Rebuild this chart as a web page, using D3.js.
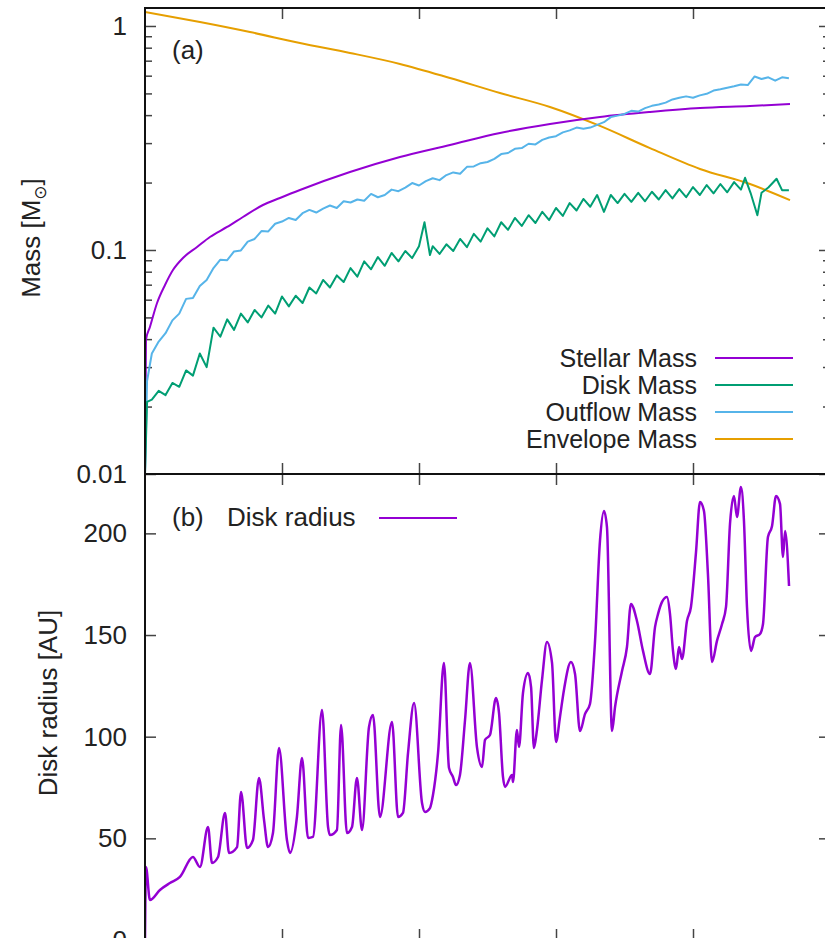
<!DOCTYPE html>
<html><head><meta charset="utf-8">
<script src="https://cdn.jsdelivr.net/npm/d3@7"></script>
<style>html,body{margin:0;padding:0;background:#fff;overflow:hidden}svg{display:block}</style>
</head><body>
<svg id="chart" width="825" height="938"></svg>
<script>
// ---------- data ----------
const timeTicks = [1, 2, 3, 4];
const massTicks = [0.01, 0.1, 1];
const massTickLabels = ["0.01", "0.1", "1"];
const massMinorTicks = [0.02,0.03,0.04,0.05,0.06,0.07,0.08,0.09,0.2,0.3,0.4,0.5,0.6,0.7,0.8,0.9];
const radiusTicks = [0, 50, 100, 150, 200];
const seriesNames = ["Stellar Mass", "Disk Mass", "Outflow Mass", "Envelope Mass"];
const seriesColors = ["#9400d3", "#009e73", "#56b4e9", "#e69f00"];

const stellarMass = [[0,0.01],[0.007,0.0397],[0.036,0.0453],[0.088,0.058],[0.146,0.0698],[0.204,0.0814],[0.277,0.0921],[0.38,0.1031],[0.474,0.1143],[0.599,0.1267],[0.715,0.1404],[0.861,0.1588],[0.985,0.1707],[1.131,0.1853],[1.496,0.2229],[1.861,0.2601],[2.226,0.2942],[2.591,0.333],[2.956,0.3652],[3.321,0.3925],[3.686,0.4131],[4.051,0.4304],[4.416,0.4394],[4.708,0.4485]];

const diskMass = [[0,0.01],[0.015,0.021],[0.05,0.0215],[0.1,0.0235],[0.15,0.0225],[0.2,0.0255],[0.25,0.0245],[0.3,0.029],[0.35,0.0275],[0.4,0.0345],[0.45,0.03],[0.5,0.045],[0.55,0.041],[0.6,0.049],[0.65,0.044],[0.7,0.052],[0.75,0.0475],[0.8,0.054],[0.85,0.05],[0.9,0.0565],[0.95,0.052],[1.0,0.062],[1.05,0.056],[1.1,0.0625],[1.15,0.058],[1.2,0.068],[1.25,0.064],[1.3,0.0735],[1.35,0.068],[1.4,0.077],[1.45,0.072],[1.5,0.083],[1.55,0.076],[1.6,0.089],[1.65,0.082],[1.7,0.093],[1.75,0.085],[1.8,0.097],[1.85,0.089],[1.9,0.099],[1.95,0.092],[2.0,0.104],[2.04,0.133],[2.08,0.095],[2.1,0.104],[2.15,0.096],[2.2,0.106],[2.25,0.099],[2.3,0.112],[2.35,0.103],[2.4,0.118],[2.45,0.109],[2.5,0.125],[2.55,0.115],[2.6,0.133],[2.65,0.123],[2.7,0.139],[2.75,0.128],[2.8,0.143],[2.85,0.132],[2.9,0.148],[2.95,0.136],[3.0,0.154],[3.05,0.142],[3.1,0.162],[3.15,0.15],[3.2,0.169],[3.25,0.156],[3.3,0.176],[3.35,0.148],[3.4,0.176],[3.45,0.162],[3.5,0.178],[3.55,0.164],[3.6,0.18],[3.65,0.165],[3.7,0.182],[3.75,0.168],[3.8,0.185],[3.85,0.17],[3.9,0.187],[3.95,0.172],[4.0,0.191],[4.05,0.176],[4.1,0.195],[4.15,0.179],[4.2,0.197],[4.25,0.181],[4.3,0.201],[4.35,0.186],[4.38,0.21],[4.42,0.18],[4.47,0.143],[4.5,0.18],[4.55,0.19],[4.61,0.208],[4.65,0.185],[4.7,0.185]];

const outflowMass = [[0,0.01],[0.015,0.026],[0.05,0.0345],[0.1,0.039],[0.15,0.0425],[0.2,0.0485],[0.25,0.052],[0.3,0.0605],[0.35,0.061],[0.4,0.069],[0.45,0.0735],[0.5,0.083],[0.55,0.0905],[0.6,0.09],[0.65,0.0985],[0.7,0.0995],[0.75,0.109],[0.8,0.112],[0.85,0.1215],[0.9,0.121],[0.95,0.131],[1.0,0.134],[1.05,0.139],[1.1,0.136],[1.15,0.146],[1.2,0.151],[1.25,0.147],[1.3,0.153],[1.35,0.158],[1.4,0.154],[1.45,0.165],[1.5,0.163],[1.55,0.168],[1.6,0.166],[1.65,0.178],[1.7,0.172],[1.75,0.176],[1.8,0.186],[1.85,0.183],[1.9,0.19],[1.95,0.199],[2.0,0.194],[2.05,0.203],[2.1,0.209],[2.15,0.205],[2.2,0.216],[2.25,0.222],[2.3,0.219],[2.35,0.235],[2.4,0.236],[2.45,0.244],[2.5,0.247],[2.55,0.255],[2.6,0.268],[2.65,0.271],[2.7,0.283],[2.75,0.285],[2.8,0.298],[2.85,0.296],[2.9,0.31],[2.95,0.318],[3.0,0.322],[3.05,0.335],[3.1,0.342],[3.15,0.352],[3.2,0.348],[3.25,0.352],[3.3,0.362],[3.35,0.372],[3.4,0.392],[3.45,0.398],[3.5,0.405],[3.55,0.418],[3.6,0.415],[3.65,0.43],[3.7,0.44],[3.75,0.446],[3.8,0.455],[3.85,0.47],[3.9,0.478],[3.95,0.485],[4.0,0.478],[4.05,0.49],[4.1,0.498],[4.15,0.515],[4.2,0.522],[4.25,0.53],[4.3,0.538],[4.35,0.548],[4.4,0.545],[4.45,0.595],[4.5,0.58],[4.55,0.59],[4.6,0.57],[4.65,0.59],[4.7,0.585]];

const envelopeMass = [[0,1.155],[0.401,1.042],[0.766,0.94],[1.131,0.839],[1.496,0.758],[1.861,0.677],[2.226,0.586],[2.591,0.502],[2.956,0.435],[3.321,0.358],[3.686,0.285],[4.051,0.23],[4.416,0.197],[4.708,0.167]];

const diskRadius = [[0,0],[0.007,35.9],[0.036,19.7],[0.109,24.6],[0.182,28.0],[0.255,31.0],[0.35,40.8],[0.401,35.9],[0.46,55.6],[0.489,37.9],[0.533,40.8],[0.584,62.5],[0.613,42.8],[0.672,45.7],[0.701,72.8],[0.745,45.3],[0.788,49.2],[0.832,79.7],[0.869,59.0],[0.898,45.7],[0.934,52.6],[0.978,94.4],[1.036,49.2],[1.058,42.8],[1.109,60.5],[1.146,89.5],[1.19,50.2],[1.226,50.7],[1.292,113.1],[1.336,55.6],[1.35,51.6],[1.401,54.1],[1.431,105.8],[1.474,52.6],[1.511,55.6],[1.547,79.7],[1.584,54.1],[1.635,104.8],[1.664,110.7],[1.715,60.5],[1.803,107.2],[1.847,60.5],[1.883,62.5],[1.92,92.0],[1.964,116.6],[2.022,67.4],[2.044,63.0],[2.08,64.9],[2.102,71.3],[2.139,92.0],[2.182,136.3],[2.219,84.6],[2.248,80.2],[2.27,76.2],[2.299,81.2],[2.336,108.2],[2.372,136.3],[2.423,94.9],[2.46,85.1],[2.482,98.4],[2.518,100.8],[2.562,119.0],[2.584,111.7],[2.613,80.2],[2.628,75.3],[2.679,81.2],[2.686,77.7],[2.715,103.3],[2.73,94.9],[2.759,121.5],[2.796,131.3],[2.818,124.4],[2.839,94.4],[2.861,103.3],[2.898,127.9],[2.934,146.6],[2.971,136.3],[3.0,97.4],[3.029,109.7],[3.058,123.0],[3.109,136.7],[3.139,130.8],[3.175,102.8],[3.212,111.2],[3.248,116.1],[3.285,147.1],[3.321,196.3],[3.35,211.0],[3.372,203.1],[3.409,102.8],[3.431,114.6],[3.482,132.3],[3.518,144.1],[3.547,165.3],[3.591,156.9],[3.635,142.2],[3.686,130.8],[3.723,154.0],[3.745,160.4],[3.774,166.3],[3.81,168.7],[3.832,160.4],[3.854,142.2],[3.876,133.3],[3.898,144.1],[3.92,138.2],[3.956,156.9],[3.985,163.8],[4.022,190.8],[4.051,215.4],[4.08,211.0],[4.109,180.0],[4.139,136.7],[4.175,147.1],[4.212,155.4],[4.241,163.8],[4.27,204.6],[4.299,218.4],[4.321,208.1],[4.35,222.8],[4.372,206.1],[4.394,163.8],[4.423,142.2],[4.453,149.0],[4.489,150.5],[4.511,155.4],[4.547,198.2],[4.577,203.6],[4.606,218.4],[4.635,214.5],[4.657,188.4],[4.672,201.2],[4.701,174.1]];

// ---------- layout ----------
const L = 145, R = 830, T = 8, M = 474, B = 940;
const FONT = "'Liberation Sans', Arial, Helvetica, sans-serif";
const svg = d3.select("#chart");
svg.append("rect").attr("width", 825).attr("height", 938).attr("fill", "#fff");

const x = d3.scaleLinear().domain([0, 5]).range([L, R]);
const yMass = d3.scaleLog().domain([0.01, 1.203]).range([M, T]);
const yRad = d3.scaleLinear().domain([0, 229.2]).range([B, M]);

const defs = svg.append("defs");
defs.append("clipPath").attr("id", "clipA").append("rect").attr("x", L).attr("y", T).attr("width", R - L).attr("height", M - T);
defs.append("clipPath").attr("id", "clipB").append("rect").attr("x", L).attr("y", M).attr("width", R - L).attr("height", B - M);

function styleAxis(g) {
  g.select(".domain").remove();
  g.selectAll(".tick line").attr("stroke", "#444").attr("stroke-width", 1.5);
  g.selectAll(".tick text").attr("font-family", FONT).attr("font-size", 26).attr("fill", "#222");
}

// ---------- panel (a) axes ----------
svg.append("g").attr("transform", `translate(${L},0)`)
  .call(d3.axisLeft(yMass).tickValues(massTicks).tickSizeInner(-11).tickSizeOuter(0).tickPadding(18)
    .tickFormat((d, i) => massTickLabels[i]))
  .call(styleAxis);
svg.append("g").attr("transform", `translate(${L},0)`)
  .call(d3.axisLeft(yMass).tickValues(massMinorTicks).tickSizeInner(-7).tickSizeOuter(0).tickFormat(""))
  .call(styleAxis);
svg.append("g").attr("transform", `translate(${R},0)`)
  .call(d3.axisRight(yMass).tickValues(massTicks).tickSizeInner(-11).tickSizeOuter(0).tickFormat(""))
  .call(styleAxis);
svg.append("g").attr("transform", `translate(${R},0)`)
  .call(d3.axisRight(yMass).tickValues(massMinorTicks).tickSizeInner(-7).tickSizeOuter(0).tickFormat(""))
  .call(styleAxis);
svg.append("g").attr("transform", `translate(0,${T})`)
  .call(d3.axisTop(x).tickValues(timeTicks).tickSizeInner(-11).tickSizeOuter(0).tickFormat(""))
  .call(styleAxis);
svg.append("g").attr("transform", `translate(0,${M})`)
  .call(d3.axisBottom(x).tickValues(timeTicks).tickSizeInner(-11).tickSizeOuter(0).tickFormat(""))
  .call(styleAxis);

// ---------- panel (b) axes ----------
svg.append("g").attr("transform", `translate(${L},0)`)
  .call(d3.axisLeft(yRad).tickValues(radiusTicks).tickSizeInner(-11).tickSizeOuter(0).tickPadding(18))
  .call(styleAxis);
svg.append("g").attr("transform", `translate(${R},0)`)
  .call(d3.axisRight(yRad).tickValues(radiusTicks).tickSizeInner(-11).tickSizeOuter(0).tickFormat(""))
  .call(styleAxis);
svg.append("g").attr("transform", `translate(0,${M})`)
  .call(d3.axisTop(x).tickValues(timeTicks).tickSizeInner(-11).tickSizeOuter(0).tickFormat(""))
  .call(styleAxis);
svg.append("g").attr("transform", `translate(0,${B})`)
  .call(d3.axisBottom(x).tickValues(timeTicks).tickSizeInner(-11).tickSizeOuter(0).tickFormat(""))
  .call(styleAxis);

// ---------- lines ----------
const massLine = d3.line().x(d => x(d[0])).y(d => yMass(d[1]));
const massSmooth = d3.line().x(d => x(d[0])).y(d => yMass(d[1])).curve(d3.curveMonotoneX);
const gA = svg.append("g").attr("clip-path", "url(#clipA)");
const massSeries = [
  {data: envelopeMass, color: seriesColors[3], gen: massSmooth},
  {data: stellarMass, color: seriesColors[0], gen: massSmooth},
  {data: outflowMass, color: seriesColors[2], gen: massLine},
  {data: diskMass, color: seriesColors[1], gen: massLine}
];
massSeries.forEach(s => {
  gA.append("path").attr("d", s.gen(s.data)).attr("fill", "none")
    .attr("stroke", s.color).attr("stroke-width", 2).attr("stroke-linejoin", "round");
});

const radLine = d3.line().x(d => x(d[0])).y(d => yRad(d[1])).curve(d3.curveMonotoneX);
svg.append("g").attr("clip-path", "url(#clipB)").append("path")
  .attr("d", radLine(diskRadius)).attr("fill", "none")
  .attr("stroke", seriesColors[0]).attr("stroke-width", 2.5).attr("stroke-linejoin", "round");

// ---------- borders ----------
svg.append("rect").attr("x", L).attr("y", T).attr("width", R - L).attr("height", M - T)
  .attr("fill", "none").attr("stroke", "#111").attr("stroke-width", 2);
svg.append("rect").attr("x", L).attr("y", M).attr("width", R - L).attr("height", B - M)
  .attr("fill", "none").attr("stroke", "#111").attr("stroke-width", 2);

// ---------- legend (a) ----------
const legendRowY = [358, 385, 412, 439];
seriesNames.forEach((name, i) => {
  svg.append("text").attr("x", 697).attr("y", legendRowY[i]).attr("dy", "0.36em")
    .attr("text-anchor", "end").attr("font-family", FONT).attr("font-size", 25).attr("fill", "#222").text(name);
  svg.append("line").attr("x1", 715).attr("x2", 793).attr("y1", legendRowY[i]).attr("y2", legendRowY[i])
    .attr("stroke", seriesColors[i]).attr("stroke-width", 2);
});

// ---------- panel labels ----------
svg.append("text").attr("x", 172).attr("y", 59).attr("font-family", FONT).attr("font-size", 26).attr("fill", "#222").text("(a)");
svg.append("text").attr("x", 172).attr("y", 526).attr("font-family", FONT).attr("font-size", 26).attr("fill", "#222").text("(b)");
svg.append("text").attr("x", 227).attr("y", 526).attr("font-family", FONT).attr("font-size", 26).attr("fill", "#222").text("Disk radius");
svg.append("line").attr("x1", 379).attr("x2", 457).attr("y1", 518).attr("y2", 518)
  .attr("stroke", seriesColors[0]).attr("stroke-width", 2);

// ---------- axis titles ----------
const t1 = svg.append("text").attr("transform", "translate(40,238) rotate(-90)")
  .attr("text-anchor", "middle").attr("font-family", FONT).attr("font-size", 26).attr("fill", "#222");
t1.append("tspan").text("Mass [M");
t1.append("tspan").attr("font-size", 17).attr("dy", 6).attr("font-family", "'DejaVu Sans', sans-serif").text("\u2299");
t1.append("tspan").attr("dy", -6).text("]");

svg.append("text").attr("transform", "translate(57,703) rotate(-90)")
  .attr("text-anchor", "middle").attr("font-family", FONT).attr("font-size", 26).attr("fill", "#222")
  .text("Disk radius [AU]");
</script></body></html>
